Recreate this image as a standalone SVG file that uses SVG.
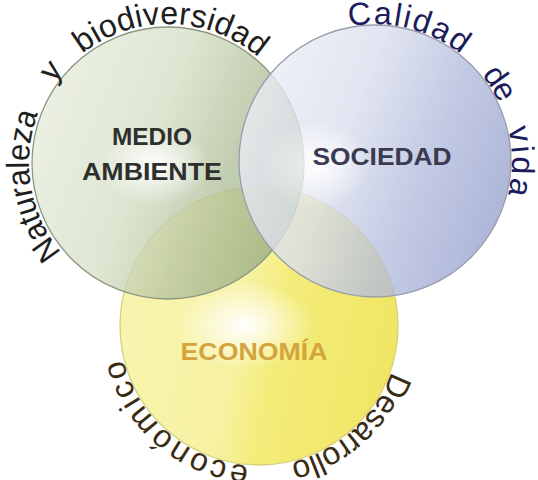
<svg xmlns="http://www.w3.org/2000/svg" width="538" height="480" viewBox="0 0 538 480">
<defs>
<style>
.arc{font-family:"Liberation Sans","DejaVu Sans",sans-serif;font-size:32px;}
.lbl{font-family:"Liberation Sans",Arial,sans-serif;font-weight:bold;font-size:24px;text-anchor:middle;}
</style>
<linearGradient id="gGreen" x1="0" y1="0.2" x2="1" y2="0.6">
<stop offset="0" stop-color="#e8eede"/>
<stop offset="0.45" stop-color="#d6dfc6"/>
<stop offset="0.7" stop-color="#b6c4a0"/>
<stop offset="1" stop-color="#96aa7e"/>
</linearGradient>
<linearGradient id="gBlue" x1="0" y1="0.2" x2="1" y2="0.6">
<stop offset="0" stop-color="#eef0f7"/>
<stop offset="0.4" stop-color="#dadfee"/>
<stop offset="0.7" stop-color="#b3bcdc"/>
<stop offset="1" stop-color="#98a3cf"/>
</linearGradient>
<linearGradient id="gYellow" x1="0" y1="0.3" x2="1" y2="0.5">
<stop offset="0" stop-color="#f8f4b0"/>
<stop offset="0.45" stop-color="#f7f2a2"/>
<stop offset="0.6" stop-color="#f4ec7a"/>
<stop offset="1" stop-color="#f0e664"/>
</linearGradient>
<radialGradient id="glow">
<stop offset="0" stop-color="#ffffff" stop-opacity="1"/>
<stop offset="0.4" stop-color="#ffffff" stop-opacity="0.6"/>
<stop offset="1" stop-color="#ffffff" stop-opacity="0"/>
</radialGradient>
<path id="pGreen" d="M168,302 A139,139 0 1 1 168,24 A139,139 0 1 1 168,302"/>
<path id="pBlue" d="M375,298 A137,137 0 1 1 375,24 A137,137 0 1 1 375,298"/>
<path id="pYellow" d="M259,186 A140,140 0 1 1 259,466 A140,140 0 1 1 259,186"/>
<clipPath id="cG"><circle cx="168" cy="163" r="136"/></clipPath>
<clipPath id="cB"><circle cx="375" cy="161" r="136"/></clipPath>
<clipPath id="cY"><circle cx="259" cy="326" r="139"/></clipPath>
</defs>
<rect width="538" height="480" fill="#ffffff"/>

<g id="economia">
<circle cx="259" cy="326" r="139" fill="url(#gYellow)"/>
<ellipse cx="245" cy="325" rx="70" ry="45" fill="url(#glow)" clip-path="url(#cY)"/>
<circle cx="259" cy="326" r="139" fill="none" stroke="#d6d07a" stroke-width="1.3"/>
</g>

<g id="medio-ambiente">
<g opacity="0.78">
<circle cx="168" cy="163" r="136" fill="url(#gGreen)"/>
<ellipse cx="155" cy="165" rx="55" ry="40" fill="url(#glow)" clip-path="url(#cG)"/>
</g>
<circle cx="168" cy="163" r="136" fill="none" stroke="#8c9680" stroke-width="1.3"/>
</g>

<g id="sociedad">
<g opacity="0.78">
<circle cx="375" cy="161" r="136" fill="url(#gBlue)"/>
<ellipse cx="315" cy="165" rx="55" ry="45" fill="url(#glow)" clip-path="url(#cB)"/>
</g>
<circle cx="375" cy="161" r="136" fill="none" stroke="#979eaa" stroke-width="1.3"/>
</g>

<g id="labels">
<text class="lbl" x="152" y="145" fill="#2e302e" textLength="80" lengthAdjust="spacingAndGlyphs">MEDIO</text>
<text class="lbl" x="152" y="180" fill="#2e302e" textLength="140" lengthAdjust="spacingAndGlyphs">AMBIENTE</text>
<text class="lbl" x="382" y="165" fill="#3a3a50" textLength="139" lengthAdjust="spacingAndGlyphs">SOCIEDAD</text>
<text class="lbl" x="254" y="360" fill="#d3a43e" font-size="23" textLength="147" lengthAdjust="spacingAndGlyphs">ECONOMÍA</text>
</g>

<g id="arc-texts">
<text class="arc" fill="#1e1e1e"><textPath href="#pGreen" startOffset="121" textLength="148" lengthAdjust="spacingAndGlyphs">Naturaleza</textPath></text>
<text class="arc" fill="#1e1e1e"><textPath href="#pGreen" startOffset="303">y</textPath></text>
<text class="arc" fill="#1e1e1e"><textPath href="#pGreen" startOffset="344" textLength="191" lengthAdjust="spacing">biodiversidad</textPath></text>
<text class="arc" fill="#1c1c5c"><textPath href="#pBlue" startOffset="404" textLength="119" lengthAdjust="spacing">Calidad</textPath></text>
<text class="arc" fill="#1c1c5c"><textPath href="#pBlue" startOffset="552" textLength="34" lengthAdjust="spacing">de</textPath></text>
<text class="arc" fill="#1c1c5c"><textPath href="#pBlue" startOffset="612" textLength="67" lengthAdjust="spacing">vida</textPath></text>
<text class="arc" fill="#3a2c12"><textPath href="#pYellow" startOffset="266" textLength="142" lengthAdjust="spacing">Desarrollo</textPath></text>
<text class="arc" fill="#3a2c12"><textPath href="#pYellow" startOffset="450" textLength="176" lengthAdjust="spacing">económico</textPath></text>
</g>
</svg>
